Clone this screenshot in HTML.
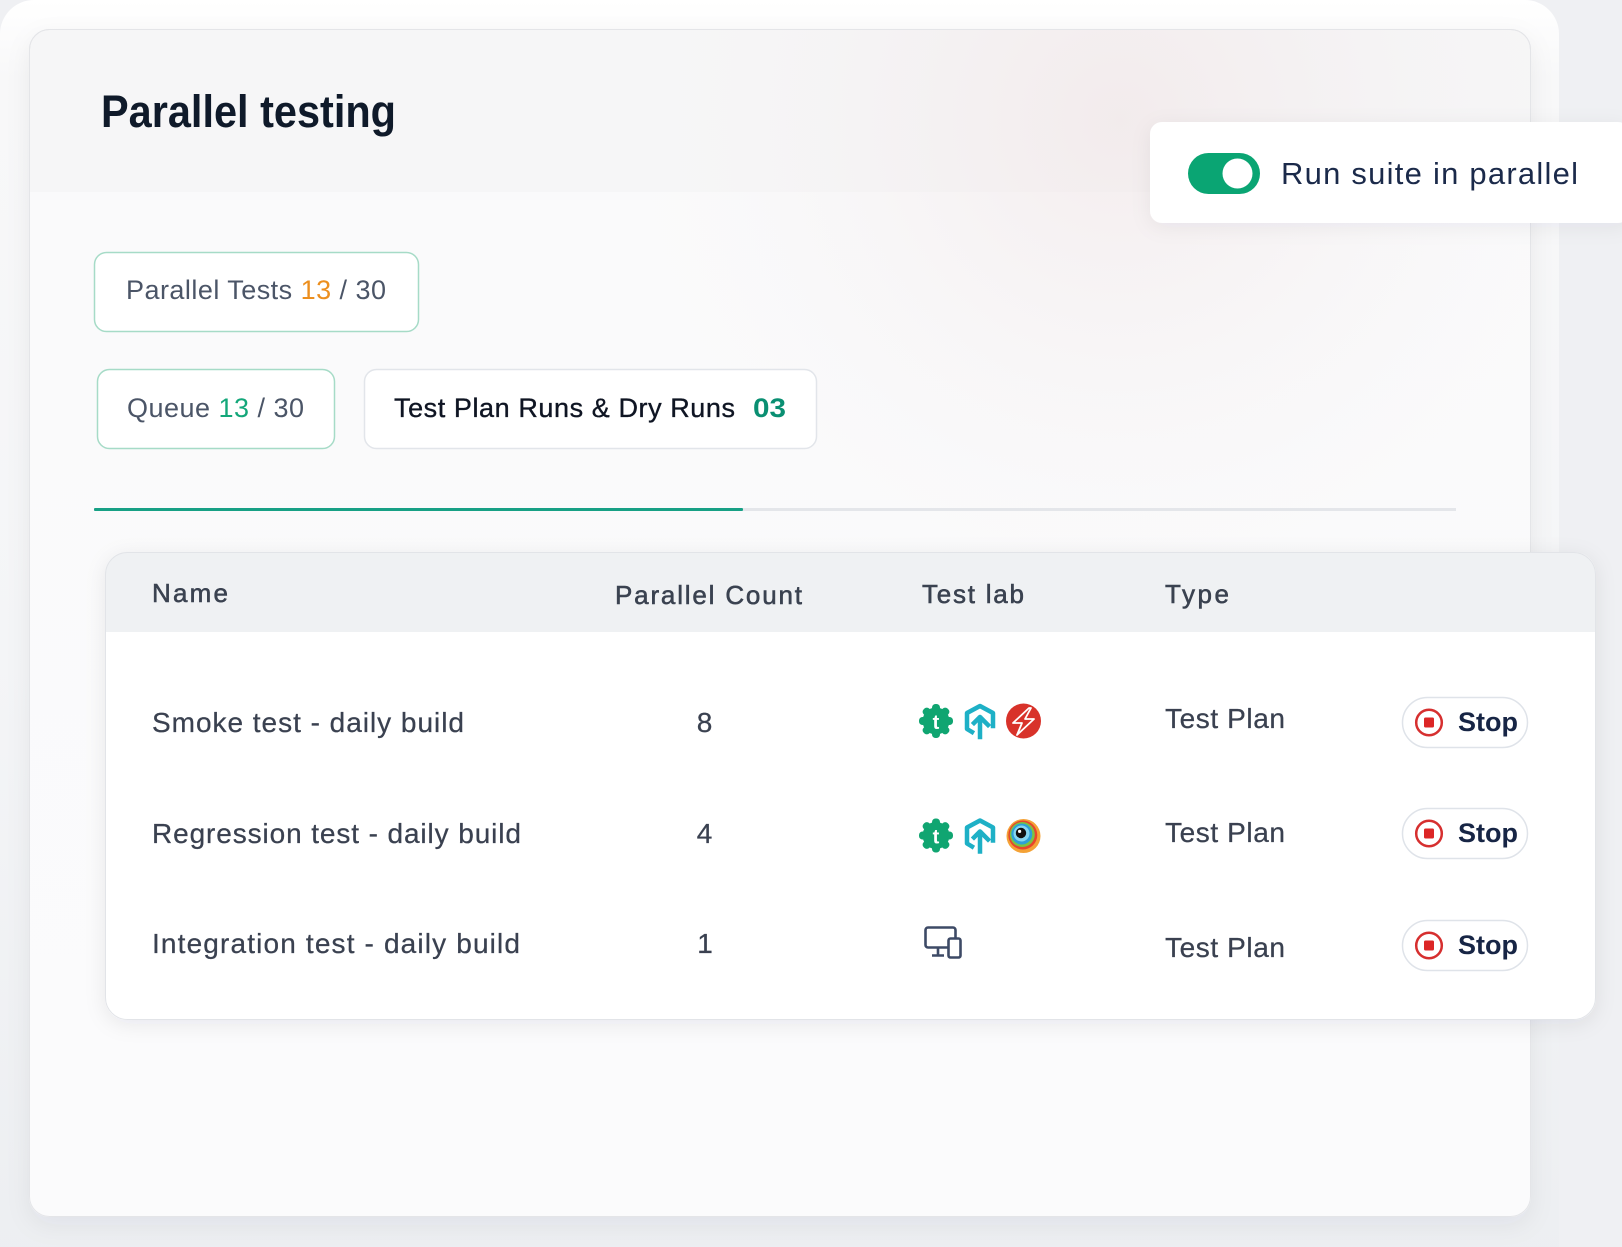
<!DOCTYPE html>
<html>
<head>
<meta charset="utf-8">
<style>
  html,body{margin:0;padding:0;width:1622px;height:1247px;overflow:hidden;background:#f0f1f4;}
  svg{display:block;}
  text{font-family:"Liberation Sans",sans-serif;}
</style>
</head>
<body>
<svg width="1622" height="1247" viewBox="0 0 1622 1247" xmlns="http://www.w3.org/2000/svg">
  <defs>
    <linearGradient id="frameG" x1="0" y1="0" x2="0" y2="1">
      <stop offset="0" stop-color="#ffffff"/>
      <stop offset="0.06" stop-color="#f8f8f9"/>
      <stop offset="0.5" stop-color="#f4f5f7"/>
      <stop offset="1" stop-color="#eceef1"/>
    </linearGradient>
    <linearGradient id="lowerG" x1="0" y1="0" x2="0" y2="1">
      <stop offset="0" stop-color="#fafafb"/>
      <stop offset="1" stop-color="#fbfbfc"/>
    </linearGradient>
    <radialGradient id="pinkG" cx="1120" cy="120" r="520" gradientUnits="userSpaceOnUse">
      <stop offset="0" stop-color="#f0e4e5" stop-opacity="0.6"/>
      <stop offset="0.5" stop-color="#f2eaeb" stop-opacity="0.25"/>
      <stop offset="1" stop-color="#f6f6f7" stop-opacity="0"/>
    </radialGradient>
    <clipPath id="cardClip"><rect x="29" y="29" width="1502" height="1188" rx="20"/></clipPath>
    <clipPath id="tClip"><rect x="105" y="552" width="1491" height="468" rx="22"/></clipPath>
    <filter id="shCard" x="-5%" y="-5%" width="110%" height="112%">
      <feDropShadow dx="0" dy="8" stdDeviation="12" flood-color="#1e293b" flood-opacity="0.06"/>
    </filter>
    <filter id="shTable" x="-5%" y="-10%" width="110%" height="125%">
      <feDropShadow dx="0" dy="4" stdDeviation="10" flood-color="#1e293b" flood-opacity="0.08"/>
    </filter>
    <filter id="shToggle" x="-10%" y="-30%" width="120%" height="170%">
      <feDropShadow dx="0" dy="4" stdDeviation="10" flood-color="#1e293b" flood-opacity="0.06"/>
    </filter>
  </defs>

  <rect x="0" y="0" width="1622" height="1247" fill="#eff0f3"/>
  <rect x="0" y="0" width="1559" height="1300" rx="34" fill="url(#frameG)"/>

  <g filter="url(#shCard)">
    <rect x="29.5" y="29.5" width="1501" height="1187" rx="20" fill="#f6f6f7" stroke="#e4e5e8" stroke-width="1"/>
  </g>
  <g clip-path="url(#cardClip)">
    <rect x="29" y="192" width="1502" height="1030" fill="url(#lowerG)"/>
    <rect x="29" y="29" width="1502" height="700" fill="url(#pinkG)"/>
  </g>
  <rect x="29.5" y="29.5" width="1501" height="1187" rx="20" fill="none" stroke="#e4e5e8" stroke-width="1"/>

  <text x="101" y="127" font-size="45" font-weight="bold" fill="#0f1a2a" textLength="295" lengthAdjust="spacingAndGlyphs">Parallel testing</text>

  <g filter="url(#shToggle)">
    <rect x="1150" y="122" width="480" height="101" rx="12" fill="#ffffff"/>
  </g>
  <rect x="1188" y="153" width="72" height="41" rx="20.5" fill="#0aa573"/>
  <circle cx="1237.5" cy="173.5" r="15" fill="#ffffff"/>
  <text x="1281" y="184" font-size="31" fill="#1b2a4a" textLength="297" lengthAdjust="spacing">Run suite in parallel</text>

  <rect x="94.5" y="252.5" width="324" height="79" rx="12" fill="#ffffff" stroke="#a6dbc7" stroke-width="1.5"/>
  <text x="126" y="299" font-size="27" fill="#4b5567" textLength="260" lengthAdjust="spacing">Parallel Tests <tspan fill="#ec8f1f">13</tspan> / 30</text>

  <rect x="97.5" y="369.5" width="237" height="79" rx="12" fill="#ffffff" stroke="#a6dbc7" stroke-width="1.5"/>
  <text x="127" y="417" font-size="27" fill="#4b5567" textLength="177" lengthAdjust="spacing">Queue <tspan fill="#14a77a">13</tspan> / 30</text>

  <rect x="364.5" y="369.5" width="452" height="79" rx="12" fill="#ffffff" stroke="#e2e5ea" stroke-width="1.5"/>
  <text x="394" y="417" font-size="27" fill="#0f1523" stroke="#0f1523" stroke-width="0.35" textLength="341" lengthAdjust="spacing">Test Plan Runs &amp; Dry Runs</text>
  <text x="753" y="417" font-size="27" font-weight="bold" fill="#0a8f72" textLength="33" lengthAdjust="spacingAndGlyphs">03</text>

  <rect x="743" y="508" width="713" height="3" fill="#e4e6ea"/>
  <rect x="94" y="508" width="649" height="3" rx="1" fill="#17a085"/>

  <g filter="url(#shTable)">
    <rect x="105" y="552" width="1491" height="468" rx="22" fill="#ffffff"/>
  </g>
  <g clip-path="url(#tClip)">
    <rect x="105" y="552" width="1491" height="80" fill="#eff1f3"/>
  </g>
  <rect x="105.5" y="552.5" width="1490" height="467" rx="22" fill="none" stroke="#e2e4e8" stroke-width="1"/>

  <g font-size="26" fill="#3a4250" stroke="#3a4250" stroke-width="0.55">
    <text x="152" y="602" textLength="76" lengthAdjust="spacing">Name</text>
    <text x="615" y="604" textLength="187" lengthAdjust="spacing">Parallel Count</text>
    <text x="922" y="603" textLength="102" lengthAdjust="spacing">Test lab</text>
    <text x="1165" y="603" textLength="64" lengthAdjust="spacing">Type</text>
  </g>

  <g font-size="28" fill="#3a4150" stroke="#3a4150" stroke-width="0.25">
    <text x="152" y="732" textLength="312" lengthAdjust="spacing">Smoke test - daily build</text>
    <text x="152" y="843" textLength="369" lengthAdjust="spacing">Regression test - daily build</text>
    <text x="152" y="953" textLength="368" lengthAdjust="spacing">Integration test - daily build</text>
    <text x="704.5" y="732" text-anchor="middle">8</text>
    <text x="704.5" y="843" text-anchor="middle">4</text>
    <text x="705" y="953" text-anchor="middle">1</text>
    <text x="1165" y="728" textLength="120" lengthAdjust="spacing">Test Plan</text>
    <text x="1165" y="842" textLength="120" lengthAdjust="spacing">Test Plan</text>
    <text x="1165" y="957" textLength="120" lengthAdjust="spacing">Test Plan</text>
  </g>

  <!-- Row 1 icons -->
  <g>
    <g fill="#10a571">
      <circle cx="936" cy="721" r="13.5"/>
      <rect x="932" y="704" width="8" height="34" rx="3.5"/>
      <rect x="919" y="717" width="34" height="8" rx="3.5"/>
      <rect x="932" y="704" width="8" height="34" rx="3.5" transform="rotate(45 936 721)"/>
      <rect x="932" y="704" width="8" height="34" rx="3.5" transform="rotate(-45 936 721)"/>
    </g>
    <text x="936" y="729" font-size="20" font-weight="bold" fill="#ffffff" text-anchor="middle">t</text>
    <g fill="none" stroke="#1eb0c6" stroke-width="4.5" stroke-linejoin="round" stroke-linecap="square">
      <path d="M972 732 L967 729 L967 713 L980 706 L993 713 L993 726"/>
      <path d="M980 737 L980 718 M974 723 L980 717 L988 725"/>
    </g>
    <circle cx="1023.5" cy="721" r="17.5" fill="#d8322a"/>
    <path d="M1029 708 L1013 723 L1022 723 L1017 735 L1034 719 L1025 719 L1031 708 Z" fill="none" stroke="#ffffff" stroke-width="1.8" stroke-linejoin="round"/>
  </g>

  <!-- Row 2 icons -->
  <g>
    <g fill="#10a571">
      <circle cx="936" cy="835.5" r="13.5"/>
      <rect x="932" y="818.5" width="8" height="34" rx="3.5"/>
      <rect x="919" y="831.5" width="34" height="8" rx="3.5"/>
      <rect x="932" y="818.5" width="8" height="34" rx="3.5" transform="rotate(45 936 835.5)"/>
      <rect x="932" y="818.5" width="8" height="34" rx="3.5" transform="rotate(-45 936 835.5)"/>
    </g>
    <text x="936" y="843.5" font-size="20" font-weight="bold" fill="#ffffff" text-anchor="middle">t</text>
    <g fill="none" stroke="#1eb0c6" stroke-width="4.5" stroke-linejoin="round" stroke-linecap="square">
      <path d="M972 846.5 L967 843.5 L967 827.5 L980 820.5 L993 827.5 L993 840.5"/>
      <path d="M980 851.5 L980 832.5 M974 837.5 L980 831.5 L988 839.5"/>
    </g>
    <circle cx="1023.5" cy="836" r="17" fill="#f4a236"/>
    <circle cx="1022.8" cy="835" r="14.5" fill="#e8452c"/>
    <circle cx="1022.3" cy="834.5" r="12.5" fill="#7cc242"/>
    <circle cx="1021.8" cy="834" r="10.5" fill="#2e9fd8"/>
    <circle cx="1021.5" cy="833.5" r="8" fill="#86d6f1"/>
    <circle cx="1021" cy="833" r="5.2" fill="#111111"/>
    <circle cx="1019.6" cy="831.4" r="1.6" fill="#ffffff"/>
  </g>

  <g fill="none" stroke="#3d4a66" stroke-width="2.6" stroke-linejoin="round">
    <rect x="925.5" y="927.5" width="30" height="20" rx="2.5"/>
    <path d="M938 948 L938 955 M932 955.5 L944 955.5"/>
    <rect x="948.5" y="938.5" width="12" height="19" rx="2" fill="#ffffff"/>
  </g>

  <g>
    <rect x="1402.5" y="697.5" width="125" height="50" rx="25" fill="#ffffff" stroke="#dfe3e9" stroke-width="1.5"/>
    <circle cx="1429" cy="722.5" r="12.8" fill="none" stroke="#d62f2f" stroke-width="2.5"/>
    <rect x="1424" y="717.5" width="10" height="10" rx="1.5" fill="#dc2626"/>
    <text x="1458" y="731" font-size="27" font-weight="bold" fill="#172545" textLength="60" lengthAdjust="spacingAndGlyphs">Stop</text>

    <rect x="1402.5" y="808.5" width="125" height="50" rx="25" fill="#ffffff" stroke="#dfe3e9" stroke-width="1.5"/>
    <circle cx="1429" cy="833.5" r="12.8" fill="none" stroke="#d62f2f" stroke-width="2.5"/>
    <rect x="1424" y="828.5" width="10" height="10" rx="1.5" fill="#dc2626"/>
    <text x="1458" y="842" font-size="27" font-weight="bold" fill="#172545" textLength="60" lengthAdjust="spacingAndGlyphs">Stop</text>

    <rect x="1402.5" y="920.5" width="125" height="50" rx="25" fill="#ffffff" stroke="#dfe3e9" stroke-width="1.5"/>
    <circle cx="1429" cy="945.5" r="12.8" fill="none" stroke="#d62f2f" stroke-width="2.5"/>
    <rect x="1424" y="940.5" width="10" height="10" rx="1.5" fill="#dc2626"/>
    <text x="1458" y="954" font-size="27" font-weight="bold" fill="#172545" textLength="60" lengthAdjust="spacingAndGlyphs">Stop</text>
  </g>
</svg>
</body>
</html>
